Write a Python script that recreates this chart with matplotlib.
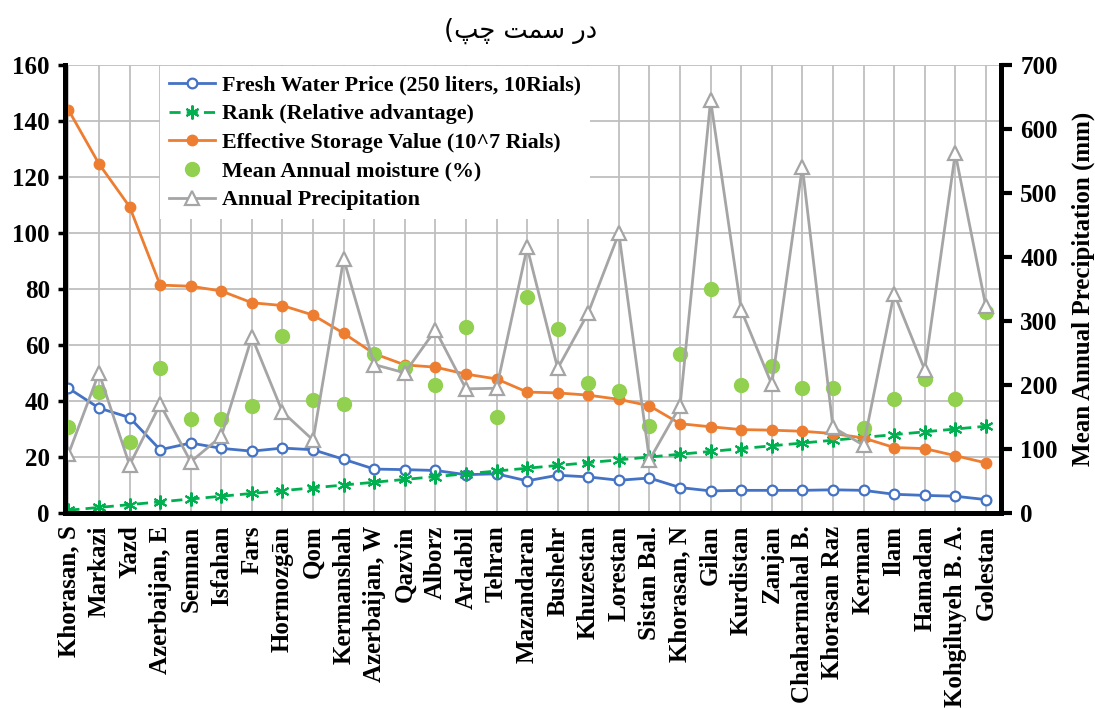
import numpy as np
import matplotlib
matplotlib.use("Agg")
import matplotlib.pyplot as plt

# provinces, ordered as on the chart
provinces = ["Khorasan, S", "Markazi", "Yazd", "Azerbaijan, E", "Semnan", "Isfahan",
             "Fars", "Hormozgān", "Qom", "Kermanshah", "Azerbaijan, W", "Qazvin",
             "Alborz", "Ardabil", "Tehran", "Mazandaran", "Bushehr", "Khuzestan",
             "Lorestan", "Sistan Bal.", "Khorasan, N", "Gilan", "Kurdistan", "Zanjan",
             "Chaharmahal B.", "Khorasan Raz", "Kerman", "Ilam", "Hamadan",
             "Kohgiluyeh B. A.", "Golestan"]

water_price = [44.6, 37.5, 34.1, 22.6, 25.0, 23.1, 22.1, 23.2, 22.6, 19.2, 15.7, 15.5,
               15.2, 13.7, 14.0, 11.5, 13.5, 12.9, 11.7, 12.5, 9.1, 7.9, 8.1, 8.1,
               8.1, 8.3, 8.1, 6.7, 6.3, 6.0, 4.8]

rank = [1, 2, 3, 4, 5, 6, 7, 8, 9, 10, 11, 12, 13, 14, 15, 16, 17, 18, 19, 20,
        21, 22, 23, 24, 25, 26, 27, 28, 29, 30, 31]

storage_value = [144.0, 124.7, 109.4, 81.4, 81.0, 79.3, 75.1, 74.1, 70.7, 64.2, 56.9,
                 52.9, 52.1, 49.6, 47.9, 43.2, 42.9, 42.1, 40.6, 38.3, 31.9, 30.8,
                 29.8, 29.6, 29.2, 28.4, 26.8, 23.4, 23.0, 20.5, 17.9]

moisture = [30.7, 43.2, 25.2, 51.7, 33.5, 33.5, 38.3, 63.3, 40.2, 39.0, 56.9, 51.7,
            45.9, 66.3, 34.3, 77.0, 65.8, 46.5, 43.6, 31.1, 56.7, 79.9, 45.6, 52.4,
            44.5, 44.8, 30.4, 40.6, 48.0, 40.9, 71.9]

precip = [92, 219, 75, 170, 80, 120, 275, 158, 114, 397, 232, 219, 286, 194, 195,
          415, 226, 313, 437, 83, 167, 645, 317, 201, 541, 134, 106, 343, 224, 562, 323]

labels = ["Fresh Water Price (250 liters, 10Rials)", "Rank (Relative advantage)",
          "Effective Storage Value (10^7 Rials)", "Mean Annual moisture (%)",
          "Annual Precipitation"]

serif = "Liberation Serif"
plt.rcParams["font.family"] = serif
plt.rcParams["font.weight"] = "bold"

fig = plt.figure(figsize=(10.95, 7.09), dpi=100)
ax = fig.add_axes([0.0594, 0.2764, 0.8546, 0.6319])
ax2 = ax.twinx()

x = np.arange(len(provinces))

h1, = ax.plot(x, water_price, color="#4472C4", lw=2, marker="o", ms=7,
              mfc="white", mec="#4472C4", mew=1.6, label=labels[0])
h2, = ax.plot(x, rank, color="#00B050", lw=2, ls=(0, (4, 2.2)), marker=(6, 2, 0),
              ms=10, mew=1.5, label=labels[1])
h3, = ax.plot(x, storage_value, color="#ED7D31", lw=2, marker="o", ms=7.5,
              label=labels[2])
h4, = ax.plot(x, moisture, ls="none", marker="o", ms=10, color="#92D050",
              label=labels[3])
h5, = ax2.plot(x, precip, color="#A5A5A5", lw=2, marker="^", ms=9.5,
               mfc="white", mec="#A5A5A5", mew=1.6, label=labels[4])

ax.set_xlim(-0.11, len(provinces) - 1 + 0.49)
ax.set_ylim(0, 160)
ax.set_yticks(range(0, 161, 20))
ax2.set_ylim(0, 700)
ax2.set_yticks(range(0, 701, 100))

ax.set_xticks(x)
ax.set_xticklabels(provinces, rotation=90, fontsize=18, fontweight="bold")
ax.tick_params(axis="x", length=0, pad=9)
ax.tick_params(axis="y", labelsize=18, length=5, width=2.5, pad=6)
ax2.tick_params(axis="y", labelsize=18, length=8, width=3, pad=6)

ax.grid(True, color="#BFBFBF", lw=1.3)
ax.set_axisbelow(True)

for a in (ax, ax2):
    a.spines["top"].set_visible(False)
    for s in ("left", "right", "bottom"):
        a.spines[s].set_linewidth(3.5)
        a.spines[s].set_color("black")

ax2.set_ylabel("Mean Annual Precipitation (mm)", fontsize=18, fontweight="bold",
               labelpad=10)

leg = ax2.legend(handles=[h1, h2, h3, h4, h5], loc="upper left",
                 bbox_to_anchor=(0.102, 0.997), borderaxespad=0, fancybox=False,
                 facecolor="white", edgecolor="none", framealpha=1,
                 prop={"family": serif, "weight": "bold", "size": 15.8},
                 handlelength=2.1, handletextpad=0.3, labelspacing=0.38, borderpad=0.4)

# Persian caption fragment, glyphs given in visual order with presentation forms
title = "(\uFB57\uFB7C \uFE96\uFEE4\uFEB3 \uFEAD\uFEA9"
fig.text(0.475, 0.957, title, ha="center", va="center", fontsize=18.5,
         family=["DejaVu Sans"], fontweight="normal")

fig.savefig("out.png", dpi=100)
